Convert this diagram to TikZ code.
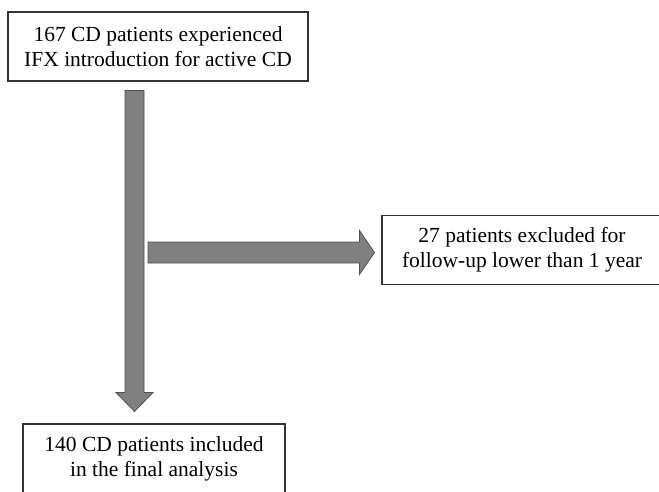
\documentclass[tikz,border=0pt]{standalone}
\usepackage{fontspec}
\setmainfont{Liberation Serif}
\usetikzlibrary{calc,positioning}
\definecolor{Ardoise}{RGB}{51,51,51}
\definecolor{Plomb}{RGB}{128,128,128}
\definecolor{Anthracite}{RGB}{80,80,80}
\tikzset{
  flowbox/.style={draw=Ardoise, line width=1.1pt, fill=white, align=center,
    inner sep=0pt, minimum height=69pt, font=\fontsize{21.5}{25}\selectfont},
  fatarrow/.style={fill=Plomb, draw=Anthracite, line width=0.8pt, line join=miter}
}

\begin{document}
\begin{tikzpicture}[x=1pt,y=-1pt]
\useasboundingbox (0,0) rectangle (659,491);
\clip (0,0) rectangle (659,491);
%
\node[flowbox, minimum width=300pt] (start) at (158,46.5) {167 CD patients experienced\\IFX introduction for active CD};
\node[flowbox, minimum width=280pt] (excl) at (522,250) {27 patients excluded for\\follow-up lower than 1 year};
\node[flowbox, minimum width=262pt] (final) at (154,458.5) {140 CD patients included\\in the final analysis};
%
\coordinate (vtop) at ($(start.south)+(-23.5,9)$);
\coordinate (vtip) at ($(final.north -| vtop)+(0,-12)$);
\coordinate (hstart) at (148,252.5);
\coordinate (htip) at ($(excl.west)+(-7,2.5)$);
%
\draw[fatarrow] ($(vtop)+(-9.5,0)$) -- ($(vtop)+(9.5,0)$) -- ($(vtip)+(9.5,-19)$)
  -- ($(vtip)+(18.5,-19)$) -- (vtip) -- ($(vtip)+(-18.5,-19)$)
  -- ($(vtip)+(-9.5,-19)$) -- cycle;
\draw[fatarrow] ($(hstart)+(0,-10.5)$) -- ($(htip |- hstart)+(-15,-10.5)$)
  -- ($(htip)+(-15,-22)$) -- (htip) -- ($(htip)+(-15,22)$)
  -- ($(htip |- hstart)+(-15,10.5)$) -- ($(hstart)+(0,10.5)$) -- cycle;
%
\end{tikzpicture}
\end{document}
